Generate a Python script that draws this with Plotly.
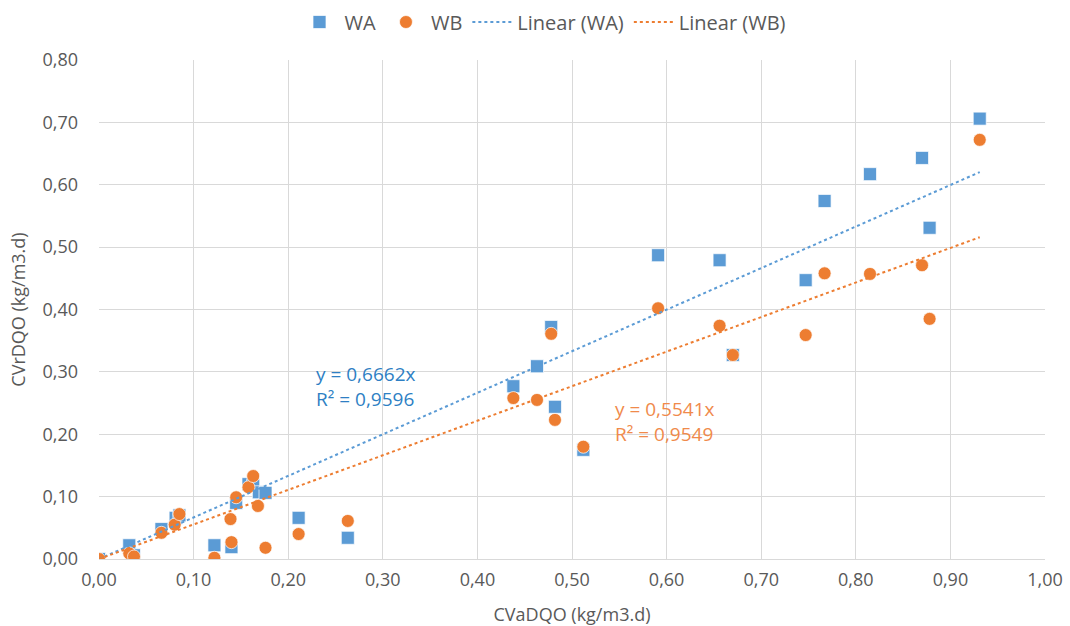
import plotly.graph_objects as go

# CVaDQO (x) values and CVrDQO for WA and WB
x_vals = [0.000, 0.032, 0.037, 0.066, 0.081, 0.085, 0.122, 0.140, 0.145, 0.158, 0.163, 0.169, 0.176,
          0.211, 0.263, 0.438, 0.463, 0.478, 0.482, 0.512, 0.591, 0.656, 0.670, 0.747, 0.767,
          0.815, 0.870, 0.878, 0.931]
wa_vals = [0.000, 0.022, 0.006, 0.048, 0.066, 0.070, 0.022, 0.019, 0.090, 0.120, 0.118, 0.107, 0.106,
           0.066, 0.034, 0.277, 0.309, 0.372, 0.244, 0.175, 0.487, 0.479, 0.327, 0.447, 0.574,
           0.617, 0.643, 0.531, 0.706]
wb_x = [0.000, 0.032, 0.037, 0.066, 0.080, 0.085, 0.122, 0.139, 0.140, 0.145, 0.158, 0.163, 0.168, 0.176,
        0.211, 0.263, 0.438, 0.463, 0.478, 0.482, 0.512, 0.591, 0.656, 0.670, 0.747, 0.767,
        0.815, 0.870, 0.878, 0.931]
wb_vals = [0.000, 0.009, 0.004, 0.042, 0.055, 0.072, 0.002, 0.064, 0.027, 0.099, 0.115, 0.133, 0.085, 0.018,
           0.040, 0.061, 0.258, 0.255, 0.361, 0.223, 0.180, 0.402, 0.374, 0.327, 0.359, 0.458,
           0.457, 0.471, 0.385, 0.672]

slope_wa = 0.6662
slope_wb = 0.5541
r2_wa = 0.9596
r2_wb = 0.9549

x_ticks = [i / 10 for i in range(0, 11)]
y_ticks = [i / 10 for i in range(0, 9)]

BLUE = "#5B9BD5"
ORANGE = "#ED7D31"
FONT = "Open Sans"
GRAY = "#595959"

x_end = max(x_vals)
trend_x = [0.0, x_end]

fig = go.Figure()
fig.add_trace(go.Scatter(x=x_vals, y=wa_vals, mode="markers", name="WA",
                         marker=dict(symbol="square", size=13, color=BLUE,
                                     line=dict(color="rgba(255,255,255,0.7)", width=1))))
fig.add_trace(go.Scatter(x=wb_x, y=wb_vals, mode="markers", name="WB",
                         marker=dict(symbol="circle", size=13, color=ORANGE,
                                     line=dict(color="rgba(255,255,255,0.7)", width=1))))
fig.add_trace(go.Scatter(x=trend_x, y=[slope_wa * v for v in trend_x], mode="lines",
                         name="Linear (WA)", line=dict(color=BLUE, width=2, dash="dot")))
fig.add_trace(go.Scatter(x=trend_x, y=[slope_wb * v for v in trend_x], mode="lines",
                         name="Linear (WB)", line=dict(color=ORANGE, width=2, dash="dot")))

fig.add_annotation(x=0.227, y=0.276, xref="x", yref="y", xanchor="left", yanchor="middle",
                   align="left", showarrow=False,
                   text=f"y = {str(slope_wa).replace('.', ',')}x<br>R² = {str(r2_wa).replace('.', ',')}",
                   font=dict(family=FONT, size=19, color="#2E7FC4"))
fig.add_annotation(x=0.543, y=0.221, xref="x", yref="y", xanchor="left", yanchor="middle",
                   align="left", showarrow=False,
                   text=f"y = {str(slope_wb).replace('.', ',')}x<br>R² = {str(r2_wb).replace('.', ',')}",
                   font=dict(family=FONT, size=19, color="#F08A4B"))

fig.update_layout(
    width=1070, height=626,
    margin=dict(l=99, r=25, t=60, b=67, autoexpand=False),
    paper_bgcolor="white", plot_bgcolor="white",
    separators=",.",
    font=dict(family=FONT, size=18, color=GRAY),
    showlegend=True,
    legend=dict(orientation="h", x=543 / 1070, xanchor="center", xref="container",
                y=1 - 22 / 626, yanchor="middle", yref="container",
                font=dict(family=FONT, size=20, color=GRAY), itemwidth=40),
    xaxis=dict(range=[0, 1.0], tickvals=x_ticks, tickformat=".2f", automargin=False,
               showgrid=True, gridcolor="#D9D9D9", gridwidth=1,
               zeroline=False, showline=True, linecolor="#D9D9D9", linewidth=1,
               ticks="", ticklabelstandoff=4, tickfont=dict(family=FONT, size=18, color=GRAY),
               title=dict(text="CVaDQO (kg/m3.d)", standoff=22,
                          font=dict(family=FONT, size=18, color=GRAY))),
    yaxis=dict(range=[0, 0.8], tickvals=y_ticks, tickformat=".2f", automargin=False,
               showgrid=True, gridcolor="#D9D9D9", gridwidth=1,
               zeroline=False, showline=False,
               ticks="", ticklabelstandoff=20, tickfont=dict(family=FONT, size=18, color=GRAY),
               title=dict(text="CVrDQO (kg/m3.d)", standoff=12,
                          font=dict(family=FONT, size=18, color=GRAY))),
)

fig.write_html("out.html")
